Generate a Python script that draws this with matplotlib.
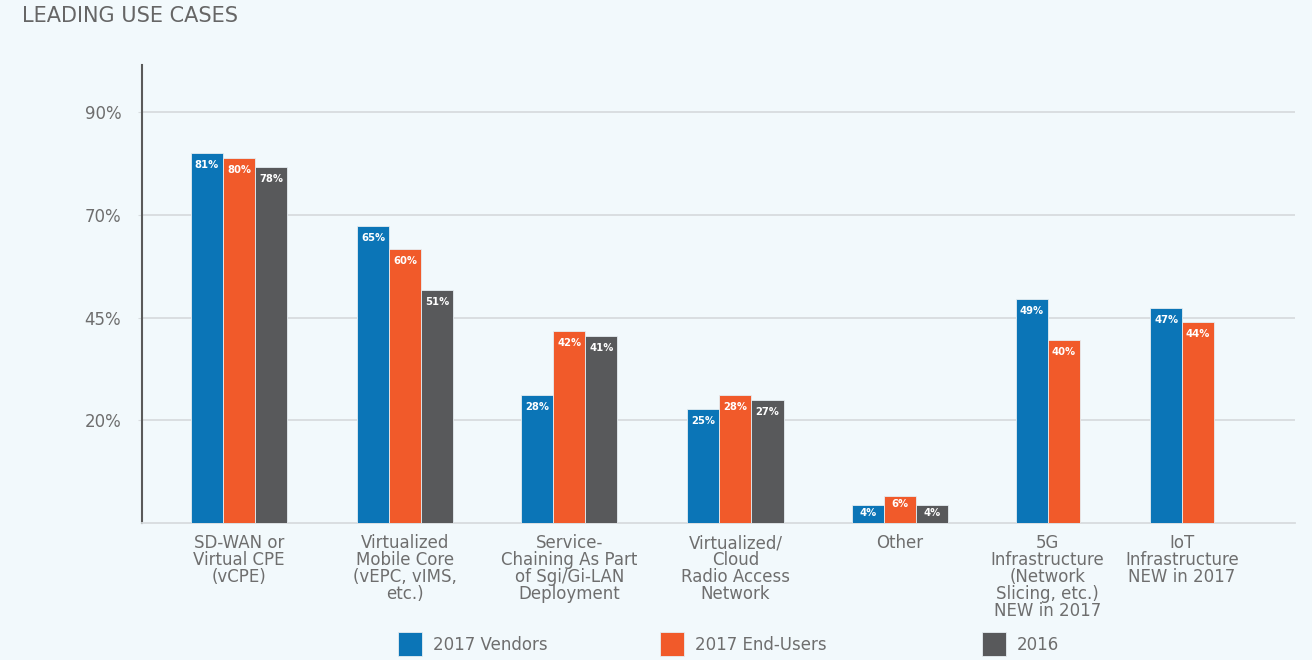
import matplotlib
matplotlib.use("Agg")
import matplotlib.pyplot as plt
from matplotlib.patches import Rectangle
import numpy as np

# ---- data ----
categories = [
    "SD-WAN or\nVirtual CPE\n(vCPE)",
    "Virtualized\nMobile Core\n(vEPC, vIMS,\netc.)",
    "Service-\nChaining As Part\nof Sgi/Gi-LAN\nDeployment",
    "Virtualized/\nCloud\nRadio Access\nNetwork",
    "Other",
    "5G\nInfrastructure\n(Network\nSlicing, etc.)\nNEW in 2017",
    "IoT\nInfrastructure\nNEW in 2017",
]
series_names = ["2017 Vendors", "2017 End-Users", "2016"]
vendors_2017 = [81, 65, 28, 25, 4, 49, 47]
endusers_2017 = [80, 60, 42, 28, 6, 40, 44]
survey_2016 = [78, 51, 41, 27, 4, None, None]
ytick_labels = ["20%", "45%", "70%", "90%"]

# ---- style / layout ----
colors = ["#0B75B7", "#F15A2A", "#58595B"]
bg = "#F2F9FC"
text_gray = "#6E6E6E"
grid_gray = "#D8DCDF"
group_pos = [0, 1, 1.99, 2.99, 3.98, 4.87, 5.68]
bar_w = 0.193
ytick_pos = [22.5, 45, 67.5, 90]

W, H = 1312, 660
fig = plt.figure(figsize=(W / 100, H / 100), dpi=100, facecolor=bg)
ax = fig.add_axes([142 / W, 1 - 523 / H, (1295 - 142) / W, (523 - 65) / H])
ax.set_facecolor(bg)

all_series = [vendors_2017, endusers_2017, survey_2016]
for gi, gx in enumerate(group_pos):
    present = [(si, s[gi]) for si, s in enumerate(all_series) if s[gi] is not None]
    n = len(present)
    for k, (si, v) in enumerate(present):
        x = gx + (k - (n - 1) / 2) * bar_w
        ax.bar(x, v, width=bar_w, color=colors[si], edgecolor="#E6EEF2",
               linewidth=0.6, zorder=3)
        off = -8.5 if v > 8 else -6
        ax.annotate(f"{v}%", (x, v), xytext=(0, off), textcoords="offset points",
                    ha="center", va="center", color="white", fontsize=7.2,
                    fontweight="bold", zorder=4)

ax.set_xlim(-0.584, 6.36)
ax.set_ylim(0, 100.3)
ax.set_yticks(ytick_pos)
ax.set_yticklabels(ytick_labels, color=text_gray, fontsize=12)
ax.tick_params(axis="y", length=3, color=grid_gray, pad=12)
ax.yaxis.grid(True, color=grid_gray, linewidth=1.3, zorder=0)
ax.set_axisbelow(True)

ax.set_xticks(group_pos)
ax.set_xticklabels(categories, color=text_gray, fontsize=12, linespacing=0.93, va="top")
ax.tick_params(axis="x", length=0, pad=8)

for side in ["top", "right"]:
    ax.spines[side].set_visible(False)
ax.spines["left"].set_color("#5A5A5A")
ax.spines["left"].set_linewidth(1.5)
ax.spines["bottom"].set_color(grid_gray)
ax.spines["bottom"].set_linewidth(1.3)

fig.text(22 / W, 1 - 16 / H, "LEADING USE CASES", color="#666666", fontsize=15,
         ha="left", va="center")

# legend drawn manually
leg_x = [398, 660, 982]
sq = 24
for i, name in enumerate(series_names):
    fig.add_artist(Rectangle((leg_x[i] / W, 1 - (632 + sq) / H), sq / W, sq / H,
                             transform=fig.transFigure, facecolor=colors[i],
                             edgecolor="#E6EEF2", linewidth=0.6))
    fig.text((leg_x[i] + sq + 11) / W, 1 - 645 / H, name, color=text_gray,
             fontsize=12, ha="left", va="center")

fig.savefig("out.png", dpi=100, facecolor=bg)
